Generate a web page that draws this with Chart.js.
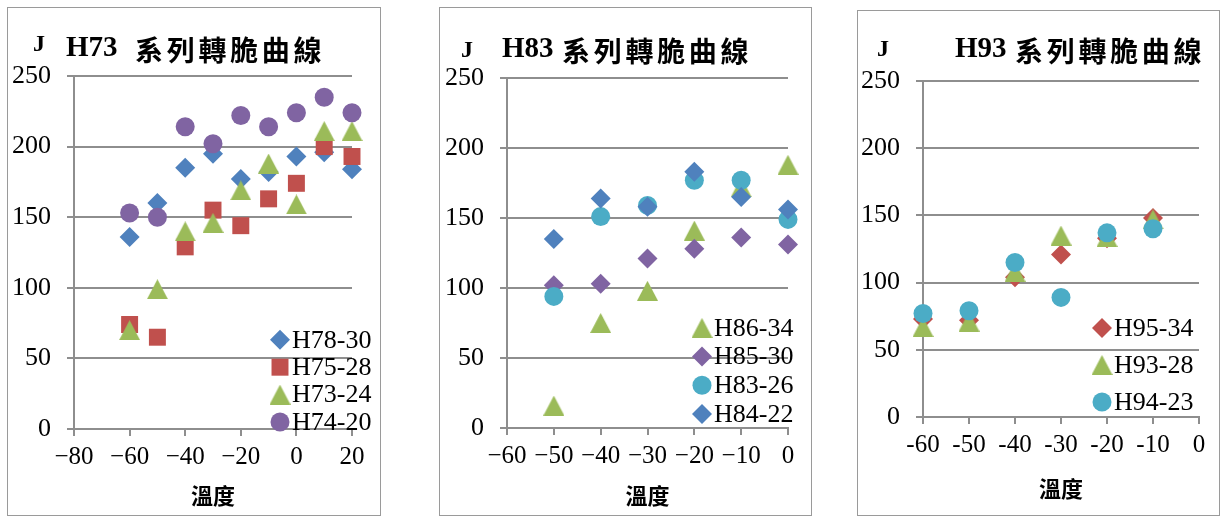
<!DOCTYPE html>
<html>
<head>
<meta charset="utf-8">
<script src="https://cdn.jsdelivr.net/npm/chart.js@4.4.1/dist/chart.umd.min.js"></script>
<style>
  body { margin: 0; background: #fff; width: 1220px; height: 516px; position: relative; overflow: hidden; }
  .panel { position: absolute; border: 1px solid #9a9a9a; background: #fff; }
  .panel canvas { display: block; }
</style>
</head>
<body>
<div class="panel" style="left:7px;top:7px;width:372px;height:507px"><canvas id="c1" width="372" height="507"></canvas></div>
<div class="panel" style="left:439px;top:7px;width:371px;height:507px"><canvas id="c2" width="371" height="507"></canvas></div>
<div class="panel" style="left:857px;top:10px;width:361px;height:504px"><canvas id="c3" width="361" height="504"></canvas></div>
<script>
// H73 系列
const h73Temps = [-60, -50, -40, -30, -20, -10, 0, 10, 20];
const h78_30 = [136, 160, 185, 195, 177, 182, 193, 196, 184];
const h75_28 = [74, 65, 129, 155, 144, 163, 174, 200, 193];
const h73_24 = [70, 99, 140, 146, 169, 188, 159, 211, 211];
const h74_20 = [153, 150, 214, 202, 222, 214, 224, 235, 224];

// H83 系列
const h83Temps = [-50, -40, -30, -20, -10, 0];
const h86_34 = [16, 75, 98, 141, 172, 188];
const h85_30 = [102, 103, 121, 128, 136, 131];
const h83_26 = [94, 151, 159, 177, 177, 149];
const h84_22 = [135, 164, 158, 183, 165, 156];

// H93 系列
const h93Temps = [-60, -50, -40, -30, -20, -10];
const h95_34 = [73, 72, 104, 121, 133, 148];
const h93_28 = [67, 71, 108, 135, 134, 147];
const h94_23 = [77, 79, 115, 89, 137, 140];

const yTicks = [0, 50, 100, 150, 200, 250];

const BLUE = '#4F81BD', RED = '#C0504D', GREEN = '#9BBB59', PURPLE = '#8064A2', TEAL = '#4BACC6';
const GRID = '#8e8e8e';

// Excel 風格三角形 (外框置中)
function triangleMark(color) {
  const c = document.createElement('canvas');
  c.width = 21;
  c.height = 20;
  const g = c.getContext('2d');
  g.fillStyle = color;
  g.beginPath();
  g.moveTo(10.5, 0);
  g.lineTo(21, 20);
  g.lineTo(0, 20);
  g.closePath();
  g.fill();
  return c;
}

const MARKS = {
  diamond: { style: () => 'rectRot', r: 10 },
  square: { style: () => 'rect', r: 12 },
  triangle: { style: triangleMark, r: 11 },
  circle: { style: () => 'circle', r: 9.5 }
};

function series(label, temps, values, color, shape, i) {
  return {
    label: label,
    data: temps.map((t, k) => ({ x: t, y: values[k] })),
    backgroundColor: color,
    borderColor: color,
    borderWidth: 0,
    pointStyle: MARKS[shape].style(color),
    pointRadius: MARKS[shape].r,
    pointHoverRadius: MARKS[shape].r,
    showLine: false,
    clip: false,
    order: -i   // later series drawn on top
  };
}

// J 單位, 標題, 圖例
const panelText = {
  id: 'panelText',
  afterDraw(chart, args, opts) {
    const ctx = chart.ctx;
    const ca = chart.chartArea;
    ctx.save();
    ctx.fillStyle = '#000';
    ctx.textBaseline = 'middle';
    ctx.textAlign = 'center';
    ctx.font = "bold 24px 'Liberation Serif'";
    ctx.fillText('J', opts.jX, opts.jY);

    const m = opts.title.match(/^([^\u4e00-\u9fff]*)(.*)$/);
    ctx.textAlign = 'left';
    ctx.font = "bold 29px 'Liberation Serif'";
    ctx.fillText(m[1], opts.titleX, opts.titleY);
    ctx.font = "bold 28px 'Noto Sans CJK TC'";
    ctx.letterSpacing = '3.7px';
    ctx.fillText(m[2], opts.titleX + opts.cjkOffset, opts.titleY + 1);
    ctx.letterSpacing = '0px';

    const L = opts.legend;
    const dsets = chart.data.datasets;
    const mx = ca.right - L.right;
    dsets.forEach((ds, i) => {
      const y = ca.bottom - L.bottom - (dsets.length - 1 - i) * L.step;
      ctx.fillStyle = ds.backgroundColor;
      Chart.helpers.drawPoint(ctx, { pointStyle: ds.pointStyle, radius: ds.pointRadius, rotation: 0, borderWidth: 0 }, mx, y);
      ctx.fillStyle = '#000';
      ctx.font = "26px 'Liberation Serif'";
      ctx.fillText(ds.label, mx + 12, y + 1);
    });
    ctx.restore();
  }
};

function makeChart(id, datasets, cfg) {
  const ctx = document.getElementById(id).getContext('2d');
  return new Chart(ctx, {
    type: 'scatter',
    data: { datasets: datasets },
    plugins: [panelText],
    options: {
      responsive: false,
      animation: false,
      events: [],
      layout: { padding: { left: 0, top: cfg.top, right: cfg.right, bottom: 0 } },
      plugins: {
        legend: { display: false },
        tooltip: { enabled: false },
        panelText: cfg.text
      },
      scales: {
        x: {
          type: 'linear',
          min: cfg.xmin,
          max: cfg.xmax,
          ticks: {
            stepSize: cfg.xstep,
            autoSkip: false,
            maxRotation: 0,
            padding: 6,
            color: '#000',
            font: { family: 'Liberation Serif', size: 25 },
            callback: v => v < 0 ? cfg.minus + Math.abs(v) : String(v)
          },
          grid: { drawOnChartArea: false, drawTicks: true, tickLength: 7, color: GRID, lineWidth: 2 },
          border: { display: true, color: GRID, width: 2 },
          title: {
            display: true,
            text: '溫度',
            color: '#000',
            font: { family: 'Noto Sans CJK TC', size: 22, weight: 'bold' },
            padding: { top: 0, bottom: cfg.titlePad }
          },
          afterFit: s => { s.height = cfg.xHeight; }
        },
        y: {
          type: 'linear',
          min: 0,
          max: 250,
          afterBuildTicks: s => { s.ticks = yTicks.map(v => ({ value: v })); },
          ticks: {
            padding: 16,
            color: '#000',
            font: { family: 'Liberation Serif', size: 26 }
          },
          grid: { drawOnChartArea: true, drawTicks: true, tickLength: 7, color: GRID, lineWidth: 2 },
          border: { display: true, color: GRID, width: 2 },
          afterFit: s => { s.width = cfg.yWidth; }
        }
      }
    }
  });
}

makeChart('c1', [
  series('H78-30', h73Temps, h78_30, BLUE, 'diamond', 0),
  series('H75-28', h73Temps, h75_28, RED, 'square', 1),
  series('H73-24', h73Temps, h73_24, GREEN, 'triangle', 2),
  series('H74-20', h73Temps, h74_20, PURPLE, 'circle', 3)
], {
  xmin: -80, xmax: 20, xstep: 20, minus: '\u2212',
  top: 68, right: 28, yWidth: 66, xHeight: 86, titlePad: 6,
  text: { title: 'H73 系列轉脆曲線', jX: 31, jY: 37, titleX: 58, titleY: 41, cjkOffset: 69,
          legend: { right: 72, bottom: 7, step: 27.4 } }
});

makeChart('c2', [
  series('H86-34', h83Temps, h86_34, GREEN, 'triangle', 0),
  series('H85-30', h83Temps, h85_30, PURPLE, 'diamond', 1),
  series('H83-26', h83Temps, h83_26, TEAL, 'circle', 2),
  series('H84-22', h83Temps, h84_22, BLUE, 'diamond', 3)
], {
  xmin: -60, xmax: 0, xstep: 10, minus: '\u2212',
  top: 70, right: 23, yWidth: 67, xHeight: 87, titlePad: 6,
  text: { title: 'H83系列轉脆曲線', jX: 27, jY: 43, titleX: 62, titleY: 42, cjkOffset: 60,
          legend: { right: 86, bottom: 14, step: 28.7 } }
});

makeChart('c3', [
  series('H95-34', h93Temps, h95_34, RED, 'diamond', 0),
  series('H93-28', h93Temps, h93_28, GREEN, 'triangle', 1),
  series('H94-23', h93Temps, h94_23, TEAL, 'circle', 2)
], {
  xmin: -60, xmax: 0, xstep: 10, minus: '-',
  top: 70, right: 20, yWidth: 65, xHeight: 98, titlePad: 13,
  text: { title: 'H93系列轉脆曲線', jX: 25, jY: 39, titleX: 97, titleY: 39, cjkOffset: 60,
          legend: { right: 97, bottom: 15, step: 37 } }
});
</script>
</body>
</html>
